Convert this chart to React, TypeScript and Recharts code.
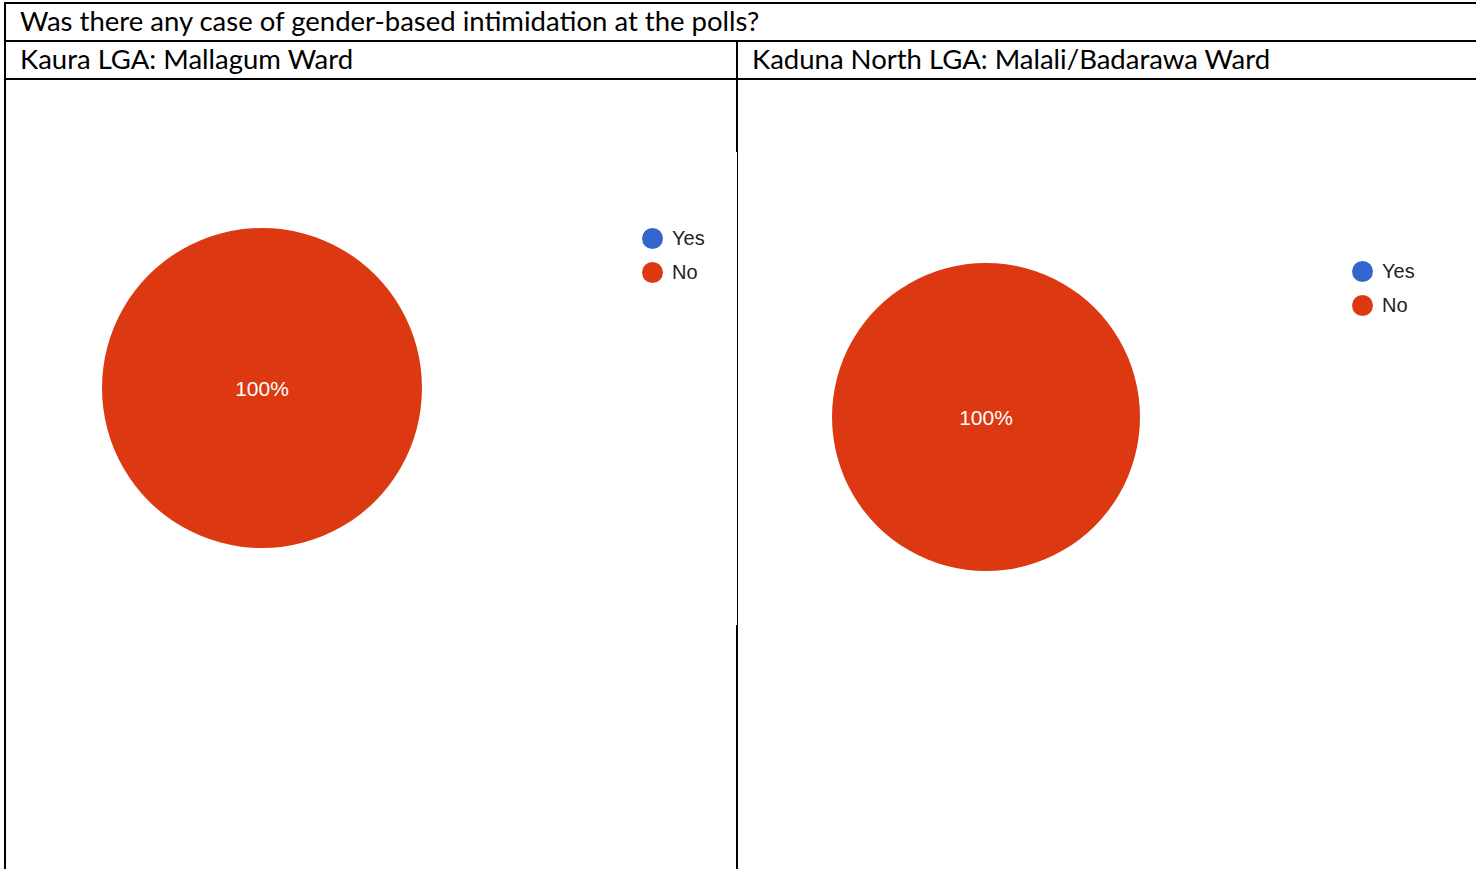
import * as React from "react"
import { Cell, Legend, Pie, PieChart } from "recharts"

const question = "Was there any case of gender-based intimidation at the polls?"
const wardTitles = ["Kaura LGA: Mallagum Ward", "Kaduna North LGA: Malali/Badarawa Ward"]
const answers = ["Yes", "No"]
const answerColors = ["#3366cc", "#dc3912"]
// share of responses per answer (Yes, No)
const kauraValues = [0, 100]
const kadunaValues = [0, 100]

const headFont = "Lato, 'Open Sans', sans-serif"
const chartFont = "'Liberation Sans', Arial, sans-serif"

function Line({ x, y, w, h }: { x: number; y: number; w: number; h: number }) {
    return (
        <div
            style={{
                position: "absolute",
                left: x,
                top: y,
                width: w,
                height: h,
                background: "#000",
            }}
        />
    )
}

function renderPercent(props: any) {
    const { cx, cy, percent, midAngle, innerRadius, outerRadius } = props
    if (!percent) return null
    let x = cx
    let y = cy
    if (percent < 1) {
        const r = innerRadius + (outerRadius - innerRadius) * 0.6
        x = cx + r * Math.cos((-midAngle * Math.PI) / 180)
        y = cy + r * Math.sin((-midAngle * Math.PI) / 180)
    }
    return (
        <text
            x={x}
            y={y}
            fill="#ffffff"
            fontSize={21}
            fontFamily={chartFont}
            textAnchor="middle"
            dominantBaseline="central"
        >
            {`${Math.round(percent * 100)}%`}
        </text>
    )
}

function LegendList({ payload }: any) {
    const items = [...(payload ?? [])].sort(
        (a: any, b: any) => answers.indexOf(a.value) - answers.indexOf(b.value)
    )
    return (
        <div>
            {items.map((item: any) => (
                <div
                    key={item.value}
                    style={{
                        display: "flex",
                        alignItems: "center",
                        height: 34,
                    }}
                >
                    <span
                        style={{
                            width: 21,
                            height: 21,
                            borderRadius: "50%",
                            background: item.color,
                            marginRight: 9,
                            display: "inline-block",
                        }}
                    />
                    <span
                        style={{
                            fontFamily: chartFont,
                            fontSize: 20,
                            color: "#222",
                        }}
                    >
                        {item.value}
                    </span>
                </div>
            ))}
        </div>
    )
}

interface WardPieProps {
    values: number[]
    left: number
    width: number
    cx: number
    cy: number
    radius: number
    legendLeft: number
    legendTop: number
}

function WardPie({ values, left, width, cx, cy, radius, legendLeft, legendTop }: WardPieProps) {
    const data = answers.map((name, i) => ({ name, value: values[i] }))
    return (
        <div style={{ position: "absolute", left, top: 80 }}>
            <PieChart
                width={width}
                height={789}
                margin={{ top: 0, right: 0, bottom: 0, left: 0 }}
            >
                <Pie
                    data={data}
                    dataKey="value"
                    nameKey="name"
                    cx={cx}
                    cy={cy}
                    outerRadius={radius}
                    startAngle={90}
                    endAngle={-270}
                    stroke="none"
                    label={renderPercent}
                    labelLine={false}
                    isAnimationActive={false}
                >
                    {data.map((d, i) => (
                        <Cell key={d.name} fill={answerColors[i]} />
                    ))}
                </Pie>
                <Legend
                    layout="vertical"
                    verticalAlign="top"
                    align="right"
                    content={<LegendList />}
                    wrapperStyle={{ left: legendLeft, top: legendTop, right: "auto", width: 100 }}
                />
            </PieChart>
        </div>
    )
}

export default function App() {
    const head: React.CSSProperties = {
        position: "absolute",
        height: 36,
        lineHeight: "36px",
        fontFamily: headFont,
        fontSize: 27.5,
        color: "#000",
        whiteSpace: "nowrap",
    }
    return (
        <div
            style={{
                position: "absolute",
                left: 0,
                top: 0,
                width: 1476,
                height: 869,
                background: "#fff",
                overflow: "hidden",
            }}
        >
            <div style={{ ...head, left: 20, top: 3 }}>{question}</div>
            <div style={{ ...head, left: 20, top: 41 }}>{wardTitles[0]}</div>
            <div style={{ ...head, left: 752, top: 41 }}>{wardTitles[1]}</div>

            <WardPie
                values={kauraValues}
                left={6}
                width={729}
                cx={256}
                cy={308}
                radius={160}
                legendLeft={636}
                legendTop={141}
            />
            <WardPie
                values={kadunaValues}
                left={739}
                width={737}
                cx={247}
                cy={337}
                radius={154}
                legendLeft={613}
                legendTop={174}
            />

            {/* table rules */}
            <Line x={4} y={2} w={1472} h={2} />
            <Line x={4} y={40} w={1472} h={2} />
            <Line x={4} y={78} w={1472} h={2} />
            <Line x={4} y={2} w={2} h={867} />
            <Line x={736} y={40} w={2} h={112} />
            <Line x={737} y={152} w={1} h={473} />
            <Line x={736} y={625} w={2} h={244} />
        </div>
    )
}
